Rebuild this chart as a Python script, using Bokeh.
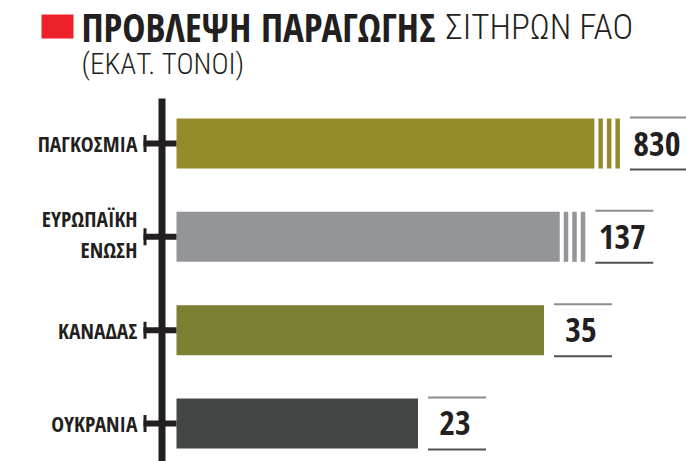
from bokeh.plotting import figure
from bokeh.models import Range1d, ColumnDataSource
from bokeh.core.properties import value
from bokeh.embed import file_html
from bokeh.resources import INLINE

# ---- data ----
categories = ["ΠΑΓΚΟΣΜΙΑ", "ΕΥΡΩΠΑΪΚΗ\nΕΝΩΣΗ", "ΚΑΝΑΔΑΣ", "ΟΥΚΡΑΝΙΑ"]
values = [830, 137, 35, 23]                 # million tonnes
break_at = [39.8, 36.5, None, None]         # broken (truncated) bars: cut point on the axis
bar_colors = ["#958a2a", "#939598", "#7a7f31", "#434645"]
value_labels = ["830", "137", "35", "23"]

title_bold = "ΠΡΟΒΛΕΨΗ ΠΑΡΑΓΩΓΗΣ"
title_light = "ΣΙΤΗΡΩΝ FAO"
subtitle = "(ΕΚΑΤ. ΤΟΝΟΙ)"

# ---- layout (pixels) ----
W, H = 686, 461
SX = 10.5            # px per unit on value axis
X0_PX = 176          # px of value 0
ROW_PX = 93.33       # px between rows
ROW0_PX = 143        # px of first row center
X_START = -X0_PX / SX
X_END = (W - X0_PX) / SX
Y_TOP = -ROW0_PX / ROW_PX
Y_BOTTOM = (H - ROW0_PX) / ROW_PX

def px_x(ix):      # image x -> data x
    return X_START + ix / SX

def px_y(iy):      # image y -> data y (rows)
    return Y_TOP + iy / ROW_PX

def dx(px):
    return px / SX

def dy(px):
    return px / ROW_PX

BOLD = "Open Sans Condensed"
LIGHT = "Roboto Condensed Light"
DARK = "#231f20"

p = figure(width=W, height=H, x_range=Range1d(X_START, X_END),
           y_range=Range1d(Y_BOTTOM, Y_TOP), output_backend="svg",
           toolbar_location=None, min_border=0)
p.axis.visible = False
p.grid.visible = False
p.outline_line_color = None
p.background_fill_color = "white"

rows = list(range(len(categories)))
shown = [v if b is None else min(v, b) for v, b in zip(values, break_at)]
bar_h = dy(50)

src = ColumnDataSource(dict(y=rows, right=shown, color=bar_colors))
p.hbar(y="y", left=0, right="right", height=bar_h, color="color", line_color=None, source=src)

# break stripes and value boxes
stripe_offsets = [4, 12.5, 21]
stripe_w = 4.5
sx0, sx1, sy = [], [], []
s_col = []
box_left, box_right, box_y, lab_x = [], [], [], []
for r, s, b, c in zip(rows, shown, break_at, bar_colors):
    end = s
    if b is not None:
        for o in stripe_offsets:
            sx0.append(s + dx(o))
            sx1.append(s + dx(o + stripe_w))
            sy.append(r)
            s_col.append(c)
        end = s + dx(stripe_offsets[-1] + stripe_w)
    bl = end + dx(10)
    box_left.append(bl)
    box_right.append(bl + dx(58))
    box_y.append(r)
    lab_x.append(bl + dx(27))

p.hbar(y=sy, left=sx0, right=sx1, height=bar_h, color=s_col, line_color=None)

top_y = [r - bar_h / 2 - dy(1) for r in box_y]
bot_y = [r + bar_h / 2 + dy(1) for r in box_y]
p.segment(x0=box_left, x1=box_right, y0=top_y, y1=top_y, line_color="#8d8d8d", line_width=2)
p.segment(x0=box_left, x1=box_right, y0=bot_y, y1=bot_y, line_color="#505050", line_width=2)
p.text(x=lab_x, y=rows, text=value_labels, text_align="center",
       text_baseline="middle", text_font=value(BOLD), text_font_style="bold",
       text_font_size="34px", text_color=DARK)

# axis line, ticks
p.segment(x0=[px_x(161.5)], x1=[px_x(161.5)], y0=[px_y(98)], y1=[px_y(470)],
          line_color=DARK, line_width=7, line_cap="butt")
p.segment(x0=[px_x(143)] * 4, x1=[0] * 4, y0=rows, y1=rows, line_color=DARK, line_width=6)
p.segment(x0=[px_x(144.5)] * 4, x1=[px_x(144.5)] * 4,
          y0=[r - dy(8.5) for r in rows], y1=[r + dy(8.5) for r in rows],
          line_color=DARK, line_width=3)

# category labels
p.text(x=[px_x(137)] * 4, y=[r + (-dy(3) if "\n" in c else 0) for r, c in zip(rows, categories)],
       text=categories, text_align="right", text_baseline="middle",
       text_font=value(BOLD), text_font_style="bold", text_font_size="21.5px",
       text_color=DARK, text_line_height=1.05)

# title
p.quad(left=[px_x(41)], right=[px_x(73)], top=[px_y(14)], bottom=[px_y(38)],
       color="#ed2129", line_color=None)
p.text(x=[px_x(81)], y=[px_y(26)], text=[title_bold], text_align="left",
       text_baseline="middle", text_font=value(BOLD), text_font_style="bold",
       text_font_size="39px", text_color=DARK)
p.text(x=[px_x(445)], y=[px_y(26.5)], text=[title_light], text_align="left",
       text_baseline="middle", text_font=value(LIGHT), text_font_style="normal",
       text_font_size="35px", text_color=DARK)
p.text(x=[px_x(81)], y=[px_y(63)], text=[subtitle], text_align="left",
       text_baseline="middle", text_font=value(LIGHT), text_font_style="normal",
       text_font_size="29px", text_color=DARK)

open("out.html", "w").write(file_html(p, INLINE))
